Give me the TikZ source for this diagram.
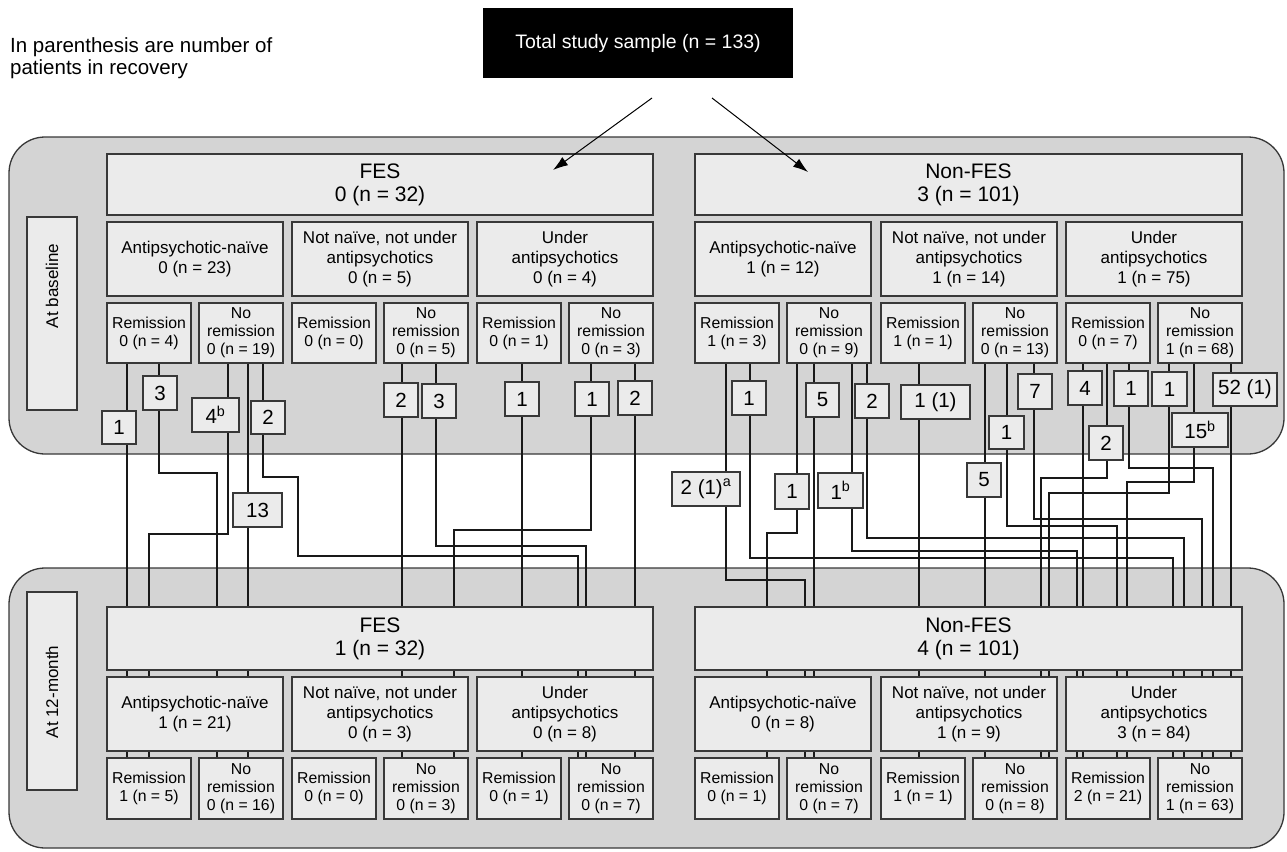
\documentclass[tikz,border=0pt]{standalone}
\usepackage{fontspec}
\setmainfont{Liberation Sans}
\usetikzlibrary{arrows.meta}
\definecolor{panelgray}{HTML}{D4D4D4}
\definecolor{boxgray}{HTML}{EBEBEB}
\definecolor{edgegray}{HTML}{383838}
\newcommand{\bx}[7][]{\node[#1, minimum width={(#5-#3)*1pt}, minimum height={(#6-#4)*1pt}] (#2) at ({(#3+#5)/2},{(#4+#6)/2}) {#7};}
\tikzset{
  panel/.style={draw=edgegray, fill=panelgray, line width=1.3pt, rounded corners=36pt},
  box/.style={draw=edgegray, fill=boxgray, line width=1.1pt, inner sep=0pt, outer sep=0pt, align=center},
  head/.style={box, font=\fontsize{21}{23}\selectfont},
  cat/.style={box, font=\fontsize{17}{20}\selectfont},
  sub/.style={box, font=\fontsize{15.8}{18}\selectfont},
  cnt/.style={box, font=\fontsize{20.5}{23}\selectfont},
  lbl/.style={box, rotate=90},
  lbltext/.style={rotate=90, inner sep=0pt, font=\fontsize{17}{20}\selectfont},
  conn/.style={line width=1.1pt, draw=black!90},
  arr/.style={line width=1pt, -{Latex[length=15pt,width=10pt]}}
}
\begin{document}
\begin{tikzpicture}[x=1pt,y=-1pt]
\useasboundingbox (0,0) rectangle (1287,851);
% title and note
\node[fill=black, text=white, minimum width=310pt, minimum height=70pt, inner sep=0pt, font=\fontsize{19.5}{22}\selectfont] (title) at (638,43) {Total study sample (n = 133)};
\node[anchor=north west, align=left, inner sep=0pt, font=\fontsize{20.5}{22.5}\selectfont] (note) at (10,37) {In parenthesis are number of\\patients in recovery};
% panels
\draw[panel] (9,137) rectangle (1284,454);
\draw[panel] (9,568) rectangle (1284,848);
\node[lbl, minimum width=193pt, minimum height=50pt] (lab1) at (52,313.5) {};
\node[lbltext] (lab1t) at (52,286) {At baseline};
\node[lbl, minimum width=198pt, minimum height=50pt] (lab2) at (52,691) {};
\node[lbltext] (lab2t) at (52,692) {At 12-month};
% arrows
\coordinate (a1) at (652,98); \coordinate (a1e) at (553,170);
\coordinate (a2) at (712,98); \coordinate (a2e) at (808,172);
% connectors FES
\draw[conn] (127,363) -- (127,758);
\draw[conn] (159,363) -- (159,473) -- (217,473) -- (217,758);
\draw[conn] (228,363) -- (228,534) -- (149,534) -- (149,758);
\draw[conn] (248,363) -- (248,758);
\draw[conn] (263,363) -- (263,477) -- (298,477) -- (298,556) -- (578,556) -- (578,758);
\draw[conn] (402,363) -- (402,758);
\draw[conn] (436,363) -- (436,546) -- (586,546) -- (586,758);
\draw[conn] (522,363) -- (522,758);
\draw[conn] (591,363) -- (591,530) -- (454,530) -- (454,758);
\draw[conn] (635,363) -- (635,758);
% connectors Non-FES
\draw[conn] (750,363) -- (750,558) -- (1173,558) -- (1173,758);
\draw[conn] (726,363) -- (726,580) -- (805,580) -- (805,758);
\draw[conn] (797,363) -- (797,533) -- (767,533) -- (767,758);
\draw[conn] (814,363) -- (814,758);
\draw[conn] (867,363) -- (867,538) -- (1184,538) -- (1184,758);
\draw[conn] (852,363) -- (852,551) -- (1077,551) -- (1077,758);
\draw[conn] (919,363) -- (919,758);
\draw[conn] (985,363) -- (985,758);
\draw[conn] (1007,363) -- (1007,526) -- (1117,526) -- (1117,758);
\draw[conn] (1034,363) -- (1034,519) -- (1202,519) -- (1202,758);
\draw[conn] (1083,363) -- (1083,758);
\draw[conn] (1107,363) -- (1107,478) -- (1041,478) -- (1041,758);
\draw[conn] (1129,363) -- (1129,468) -- (1213,468) -- (1213,758);
\draw[conn] (1169,363) -- (1169,493) -- (1049,493) -- (1049,758);
\draw[conn] (1194,363) -- (1194,482) -- (1127,482) -- (1127,758);
\draw[conn] (1231,363) -- (1231,758);
% baseline boxes
\bx[head]{tFES}{107}{154}{653}{215}{FES\\0 (n = 32)}
\bx[head]{tNF}{695}{154}{1242}{215}{Non-FES\\3 (n = 101)}
\bx[cat]{tA1}{107}{222}{283}{296}{Antipsychotic-naïve\\0 (n = 23)}
\bx[cat]{tB1}{292}{222}{468}{296}{Not naïve, not under\\antipsychotics\\0 (n = 5)}
\bx[cat]{tC1}{477}{222}{653}{296}{Under\\antipsychotics\\0 (n = 4)}
\bx[cat]{tA2}{695}{222}{871}{296}{Antipsychotic-naïve\\1 (n = 12)}
\bx[cat]{tB2}{881}{222}{1057}{296}{Not naïve, not under\\antipsychotics\\1 (n = 14)}
\bx[cat]{tC2}{1066}{222}{1242}{296}{Under\\antipsychotics\\1 (n = 75)}
\bx[sub]{tA1r}{107}{303}{191}{363}{Remission\\0 (n = 4)}
\bx[sub]{tA1n}{199}{303}{283}{363}{No\\remission\\0 (n = 19)}
\bx[sub]{tB1r}{292}{303}{376}{363}{Remission\\0 (n = 0)}
\bx[sub]{tB1n}{384}{303}{468}{363}{No\\remission\\0 (n = 5)}
\bx[sub]{tC1r}{477}{303}{561}{363}{Remission\\0 (n = 1)}
\bx[sub]{tC1n}{569}{303}{653}{363}{No\\remission\\0 (n = 3)}
\bx[sub]{tA2r}{695}{303}{779}{363}{Remission\\1 (n = 3)}
\bx[sub]{tA2n}{787}{303}{871}{363}{No\\remission\\0 (n = 9)}
\bx[sub]{tB2r}{881}{303}{965}{363}{Remission\\1 (n = 1)}
\bx[sub]{tB2n}{973}{303}{1057}{363}{No\\remission\\0 (n = 13)}
\bx[sub]{tC2r}{1066}{303}{1150}{363}{Remission\\0 (n = 7)}
\bx[sub]{tC2n}{1158}{303}{1242}{363}{No\\remission\\1 (n = 68)}
% 12-month boxes
\bx[head]{bFES}{107}{607}{653}{670}{FES\\1 (n = 32)}
\bx[head]{bNF}{695}{607}{1242}{670}{Non-FES\\4 (n = 101)}
\bx[cat]{bA1}{107}{677}{283}{751}{Antipsychotic-naïve\\1 (n = 21)}
\bx[cat]{bB1}{292}{677}{468}{751}{Not naïve, not under\\antipsychotics\\0 (n = 3)}
\bx[cat]{bC1}{477}{677}{653}{751}{Under\\antipsychotics\\0 (n = 8)}
\bx[cat]{bA2}{695}{677}{871}{751}{Antipsychotic-naïve\\0 (n = 8)}
\bx[cat]{bB2}{881}{677}{1057}{751}{Not naïve, not under\\antipsychotics\\1 (n = 9)}
\bx[cat]{bC2}{1066}{677}{1242}{751}{Under\\antipsychotics\\3 (n = 84)}
\bx[sub]{bA1r}{107}{758}{191}{819}{Remission\\1 (n = 5)}
\bx[sub]{bA1n}{199}{758}{283}{819}{No\\remission\\0 (n = 16)}
\bx[sub]{bB1r}{292}{758}{376}{819}{Remission\\0 (n = 0)}
\bx[sub]{bB1n}{384}{758}{468}{819}{No\\remission\\0 (n = 3)}
\bx[sub]{bC1r}{477}{758}{561}{819}{Remission\\0 (n = 1)}
\bx[sub]{bC1n}{569}{758}{653}{819}{No\\remission\\0 (n = 7)}
\bx[sub]{bA2r}{695}{758}{779}{819}{Remission\\0 (n = 1)}
\bx[sub]{bA2n}{787}{758}{871}{819}{No\\remission\\0 (n = 7)}
\bx[sub]{bB2r}{881}{758}{965}{819}{Remission\\1 (n = 1)}
\bx[sub]{bB2n}{973}{758}{1057}{819}{No\\remission\\0 (n = 8)}
\bx[sub]{bC2r}{1066}{758}{1150}{819}{Remission\\2 (n = 21)}
\bx[sub]{bC2n}{1158}{758}{1242}{819}{No\\remission\\1 (n = 63)}
% count boxes
\bx[cnt]{c1}{102}{411}{136}{444}{1}
\bx[cnt]{c2}{143}{376}{177}{410}{3}
\bx[cnt]{c3}{192}{398}{239}{432}{4\textsuperscript{b}}
\bx[cnt]{c4}{251}{401}{285}{434}{2}
\bx[cnt]{c5}{233}{493}{282}{527}{13}
\bx[cnt]{c6}{384}{383}{418}{417}{2}
\bx[cnt]{c7}{422}{384}{456}{418}{3}
\bx[cnt]{c8}{505}{382}{539}{416}{1}
\bx[cnt]{c9}{575}{382}{609}{416}{1}
\bx[cnt]{c10}{618}{381}{652}{415}{2}
\bx[cnt]{c11}{732}{381}{766}{415}{1}
\bx[cnt]{c12}{672}{472}{740}{506}{2 (1)\textsuperscript{a}}
\bx[cnt]{c13}{775}{474}{809}{509}{1}
\bx[cnt]{c14}{806}{383}{839}{417}{5}
\bx[cnt]{c15}{855}{384}{889}{418}{2}
\bx[cnt]{c16}{818}{473}{863}{508}{1\textsuperscript{b}}
\bx[cnt]{c17}{901}{385}{970}{419}{1 (1)}
\bx[cnt]{c18}{967}{463}{1001}{497}{5}
\bx[cnt]{c19}{989}{416}{1024}{449}{1}
\bx[cnt]{c20}{1018}{374}{1052}{409}{7}
\bx[cnt]{c21}{1068}{371}{1102}{405}{4}
\bx[cnt]{c22}{1089}{426}{1123}{460}{2}
\bx[cnt]{c23}{1114}{371}{1148}{406}{1}
\bx[cnt]{c24}{1152}{372}{1187}{406}{1}
\bx[cnt]{c25}{1172}{413}{1228}{447}{15\textsuperscript{b}}
\bx[cnt]{c26}{1213}{373}{1277}{406}{52 (1)}
% arrows on top
\draw[arr] (a1) -- (a1e);
\draw[arr] (a2) -- (a2e);
\end{tikzpicture}
\end{document}
